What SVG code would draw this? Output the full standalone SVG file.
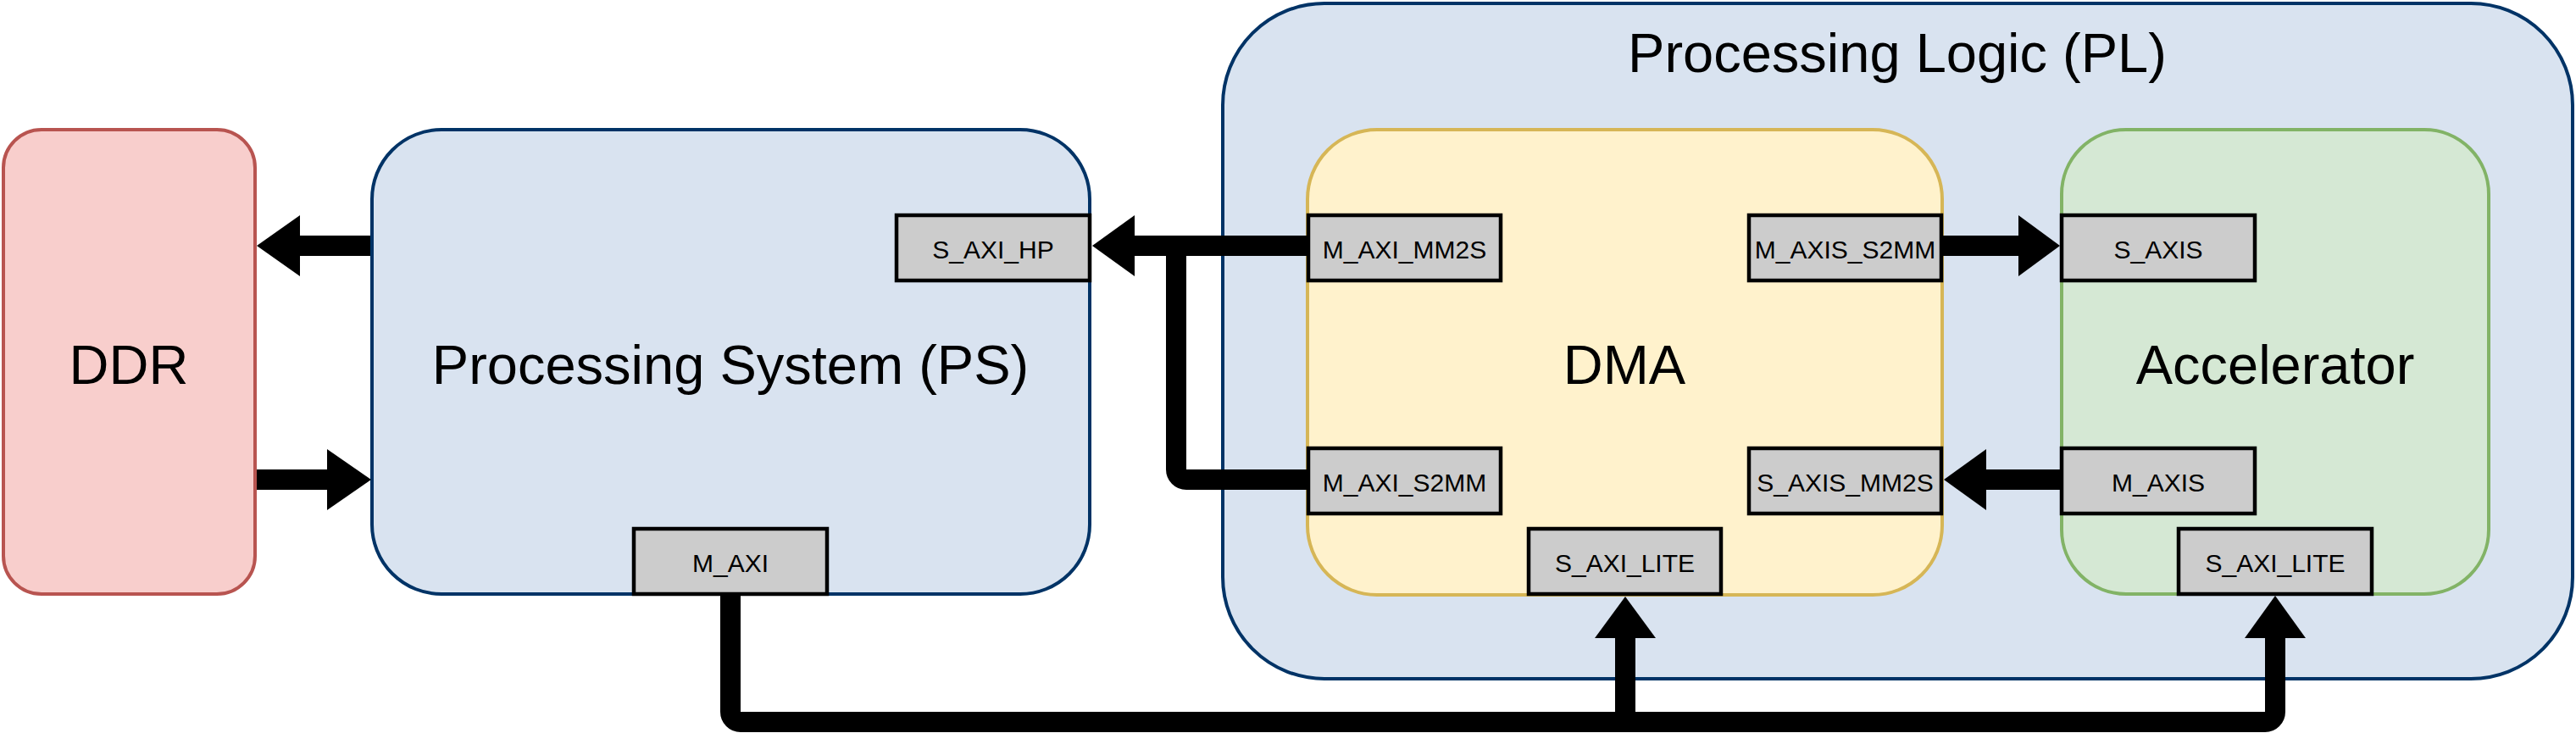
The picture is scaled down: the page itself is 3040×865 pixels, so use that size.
<svg xmlns="http://www.w3.org/2000/svg" width="3040" height="865" viewBox="0 0 3040 865">
  <style>
    .lbl { font-family: "Liberation Sans", Arial, Helvetica, sans-serif; font-size: 65px; fill: #000; text-anchor: middle; }
    .plbl { font-family: "Liberation Sans", Arial, Helvetica, sans-serif; font-size: 30px; fill: #000; text-anchor: middle; }
    .port { fill: #cccccc; stroke: #000; stroke-width: 4.5; }
    .blue { fill: #d9e3f0; stroke: #003366; stroke-width: 4; }
    .wire { fill: none; stroke: #000; stroke-width: 24; }
    .head { fill: #000; stroke: none; }
  </style>
  <rect width="3040" height="865" fill="#ffffff"/>

  <g id="pl">
    <rect class="blue" x="1443" y="4" width="1593" height="797" rx="120" ry="120"/>
    <text class="lbl" x="2239" y="85">Processing Logic (PL)</text>
  </g>

  <g id="ddr">
    <rect x="4" y="153" width="297" height="548" rx="45" ry="45" fill="#f8cecc" stroke="#b85450" stroke-width="4"/>
    <text class="lbl" x="152" y="453">DDR</text>
  </g>

  <g id="ps">
    <rect class="blue" x="439" y="153" width="847" height="548" rx="82" ry="82"/>
    <text class="lbl" x="862" y="453">Processing System (PS)</text>
  </g>

  <g id="dma">
    <rect x="1543" y="153" width="749" height="549" rx="82" ry="82" fill="#fff2cc" stroke="#d6b656" stroke-width="4"/>
    <text class="lbl" x="1917" y="453">DMA</text>
  </g>

  <g id="accelerator">
    <rect x="2433" y="153" width="504" height="548" rx="76" ry="76" fill="#d5e8d4" stroke="#82b366" stroke-width="4"/>
    <text class="lbl" x="2685" y="453">Accelerator</text>
  </g>

  <g id="connectors">
    <!-- PS -> DDR -->
    <path class="wire" d="M437,290 H352"/>
    <polygon class="head" points="303,290 354,254 354,326"/>
    <!-- DDR -> PS -->
    <path class="wire" d="M303,566 H388"/>
    <polygon class="head" points="438,566 386,530 386,602"/>
    <!-- DMA M_AXI_MM2S / M_AXI_S2MM -> PS S_AXI_HP -->
    <path class="wire" d="M1542,290 H1337"/>
    <path class="wire" d="M1542,566 H1400 A12,12 0 0 1 1388,554 V290"/>
    <polygon class="head" points="1289,290 1339,254 1339,326"/>
    <!-- M_AXIS_S2MM -> S_AXIS -->
    <path class="wire" d="M2293,290 H2384"/>
    <polygon class="head" points="2431,290 2382,254 2382,326"/>
    <!-- M_AXIS -> S_AXIS_MM2S -->
    <path class="wire" d="M2431,566 H2342"/>
    <polygon class="head" points="2294,566 2344,530 2344,602"/>
    <!-- M_AXI -> S_AXI_LITE (DMA and Accelerator) -->
    <path class="wire" d="M862,703 V840 A12,12 0 0 0 874,852 H2673 A12,12 0 0 0 2685,840 V751"/>
    <path class="wire" d="M1918,852 V751"/>
    <polygon class="head" points="1918,704 1882,753 1954,753"/>
    <polygon class="head" points="2685,703 2649,753 2721,753"/>
  </g>

  <g id="port-s-axi-hp">
    <rect class="port" x="1058" y="254" width="228" height="77"/>
    <text class="plbl" x="1172" y="305">S_AXI_HP</text>
  </g>
  <g id="port-m-axi">
    <rect class="port" x="748" y="624" width="228" height="77"/>
    <text class="plbl" x="862" y="675">M_AXI</text>
  </g>
  <g id="port-m-axi-mm2s">
    <rect class="port" x="1544" y="254" width="227" height="77"/>
    <text class="plbl" x="1657.5" y="305">M_AXI_MM2S</text>
  </g>
  <g id="port-m-axi-s2mm">
    <rect class="port" x="1544" y="529" width="227" height="77"/>
    <text class="plbl" x="1657.5" y="580">M_AXI_S2MM</text>
  </g>
  <g id="port-m-axis-s2mm">
    <rect class="port" x="2064" y="254" width="227" height="77"/>
    <text class="plbl" x="2177.5" y="305">M_AXIS_S2MM</text>
  </g>
  <g id="port-s-axis-mm2s">
    <rect class="port" x="2064" y="529" width="227" height="77"/>
    <text class="plbl" x="2177.5" y="580">S_AXIS_MM2S</text>
  </g>
  <g id="port-dma-s-axi-lite">
    <rect class="port" x="1804" y="624" width="227" height="77"/>
    <text class="plbl" x="1917.5" y="675">S_AXI_LITE</text>
  </g>
  <g id="port-s-axis">
    <rect class="port" x="2433" y="254" width="228" height="77"/>
    <text class="plbl" x="2547" y="305">S_AXIS</text>
  </g>
  <g id="port-m-axis">
    <rect class="port" x="2433" y="529" width="228" height="77"/>
    <text class="plbl" x="2547" y="580">M_AXIS</text>
  </g>
  <g id="port-acc-s-axi-lite">
    <rect class="port" x="2571" y="624" width="228" height="77"/>
    <text class="plbl" x="2685" y="675">S_AXI_LITE</text>
  </g>
</svg>
